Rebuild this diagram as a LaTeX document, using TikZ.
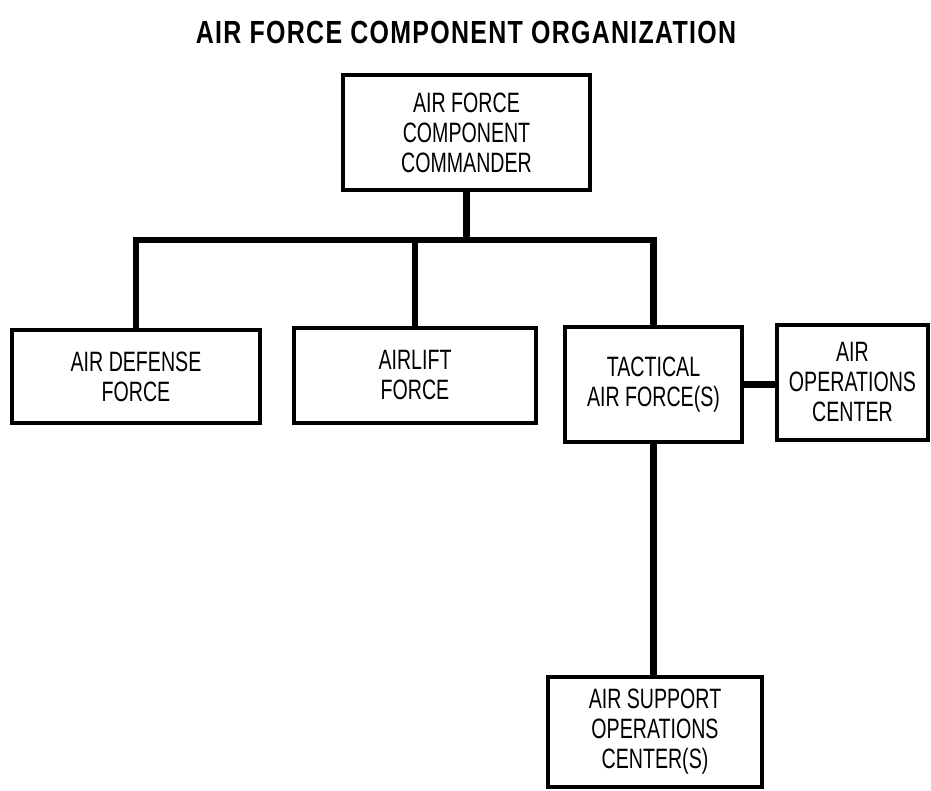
\documentclass[tikz,border=0pt]{standalone}
\usepackage{fontspec}
\setmainfont{Liberation Sans}[FakeStretch=0.7]
\newfontfamily\titlefont{Liberation Sans}[FakeStretch=0.78,LetterSpace=4]
\usepackage{tikz}
\usetikzlibrary{positioning}

\tikzset{
  orgbox/.style={draw, line width=2.4pt, align=center, inner sep=0.75pt,
    font=\fontsize{21}{22.5}\selectfont},
  link/.style={line width=5.2pt}
}

\begin{document}
\begin{tikzpicture}[x=0.75pt,y=0.75pt,yscale=-1,xscale=1]
%set diagram left start at 0, and has height of 791
\useasboundingbox (0,0) rectangle (931,791);

% Title
\node (title) at (466,32) {\titlefont\bfseries\fontsize{24}{24}\selectfont AIR FORCE COMPONENT ORGANIZATION};

%Shape: Rectangle [commander]
\node (top) [orgbox, minimum width=185.25pt, minimum height=86.25pt] at (466.5,132.5) {AIR FORCE\\COMPONENT\\COMMANDER};
%Shape: Rectangle [air defense]
\node (def) [orgbox, minimum width=186pt, minimum height=69.75pt] at (136,376.5) {AIR DEFENSE\\FORCE};
%Shape: Rectangle [airlift]
\node (lift) [orgbox, minimum width=181.5pt, minimum height=71.25pt] at (415,375.5) {AIRLIFT\\FORCE};
%Shape: Rectangle [tactical]
\node (tac) [orgbox, minimum width=132.75pt, minimum height=86.25pt] at (653.5,384.5) {TACTICAL\\AIR FORCE(S)};
%Shape: Rectangle [operations center]
\node (aoc) [orgbox, minimum width=113.25pt, minimum height=86.25pt] at (852.5,382.5) {AIR\\OPERATIONS\\CENTER};
%Shape: Rectangle [support operations center]
\node (asoc) [orgbox, minimum width=160.5pt, minimum height=82.5pt] at (655,732) {AIR SUPPORT\\OPERATIONS\\CENTER(S)};

% Connectors
\coordinate (bus) at (466.5,240);
\draw[link] (top.south) -- (bus);
\draw[link] (def.north) |- (bus) -| (tac.north);
\draw[link] (lift.north) -- (lift.north |- bus);
\draw[link] (tac.east) -- (tac.east -| aoc.west);
\draw[link] (tac.south) -- (tac.south |- asoc.north);
\end{tikzpicture}
\end{document}
